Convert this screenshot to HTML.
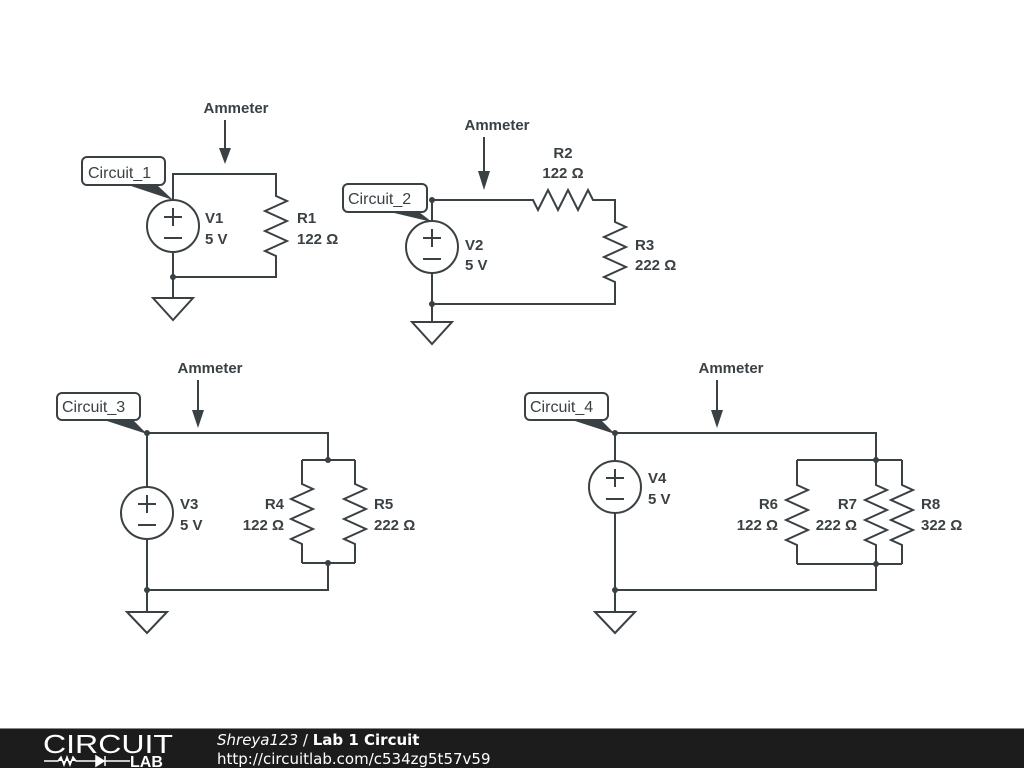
<!DOCTYPE html>
<html><head><meta charset="utf-8"><style>
html,body{margin:0;padding:0;background:#fff;}
svg{display:block}
</style></head><body>
<svg width="1024" height="768" viewBox="0 0 1024 768" xmlns="http://www.w3.org/2000/svg" font-family="Liberation Sans, Arial, sans-serif">
<rect width="1024" height="768" fill="#fff"/>
<g stroke="#3a4145" stroke-width="2" fill="none" stroke-linejoin="miter">
<path d="M173 201 V174 H276 V196 L287 201 L265 211 L287 221 L265 231 L287 241 L265 251 L276 256 V277 H173 V251"/>
<path d="M173 277 V298"/>
<path d="M153 298 H193 L173 320 Z"/>
<path d="M432 222 V200 H533 L538 210 L548 190 L558 210 L568 190 L578 210 L588 190 L593 200 H615 V222 L626 227 L604 237 L626 247 L604 257 L626 267 L604 277 L615 282 V304 H432 V272"/>
<path d="M432 304 V322"/>
<path d="M412 322 H452 L432 344 Z"/>
<path d="M147 488 V433 H328 V460"/>
<path d="M302 460 H355 M302 460 V484 L313 489 L291 499 L313 509 L291 519 L313 529 L291 539 L302 544 V563 M355 460 V484 L366 489 L344 499 L366 509 L344 519 L366 529 L344 539 L355 544 V563 M302 563 H355 M328 563 V590 H147 V538"/>
<path d="M147 590 V612"/>
<path d="M127 612 H167 L147 633 Z"/>
<path d="M615 462 V433 H876 V460"/>
<path d="M797 460 H902 M797 460 V485 L808 490 L786 500 L808 510 L786 520 L808 530 L786 540 L797 545 V564 M876 460 V485 L887 490 L865 500 L887 510 L865 520 L887 530 L865 540 L876 545 V564 M902 460 V485 L913 490 L891 500 L913 510 L891 520 L913 530 L891 540 L902 545 V564 M797 564 H902 M876 564 V590 H615 V512"/>
<path d="M615 590 V612"/>
<path d="M595 612 H635 L615 633 Z"/>
<circle cx="173" cy="226" r="26" fill="#fff"/>
<circle cx="432" cy="247" r="26" fill="#fff"/>
<circle cx="147" cy="513" r="26" fill="#fff"/>
<circle cx="615" cy="487" r="26" fill="#fff"/>
<path d="M164 217 H182 M173 208 V226 M164 238 H182"/>
<path d="M423 238 H441 M432 229 V247 M423 259 H441"/>
<path d="M138 504 H156 M147 495 V513 M138 525 H156"/>
<path d="M606 478 H624 M615 469 V487 M606 499 H624"/>
<path d="M225 120 V150 M484 137 V173 M198 380 V412 M717 380 V412"/>
</g>
<g fill="#3a4145">
<path d="M219 148 H231 L225 164 Z"/>
<path d="M478 171 H490 L484 190 Z"/>
<path d="M192 410 H204 L198 428 Z"/>
<path d="M711 410 H723 L717 428 Z"/>
<circle cx="173" cy="277" r="3"/>
<circle cx="432" cy="200" r="3"/><circle cx="432" cy="304" r="3"/>
<circle cx="147" cy="433" r="3"/><circle cx="147" cy="590" r="3"/>
<circle cx="328" cy="460" r="3"/><circle cx="328" cy="563" r="3"/>
<circle cx="615" cy="433" r="3"/><circle cx="615" cy="590" r="3"/>
<circle cx="876" cy="460" r="3"/><circle cx="876" cy="564" r="3"/>
<path d="M128 185 H157 L173 200 Z"/>
<path d="M390 212 H419 L432 222 Z"/>
<path d="M104 420 H133 L147 434 Z"/>
<path d="M572 420 H601 L615 434 Z"/>
</g>
<g fill="#fff" stroke="#3a4145" stroke-width="2">
<rect x="82" y="157" width="83" height="28" rx="5"/>
<rect x="343" y="184" width="84" height="28" rx="5"/>
<rect x="57" y="393" width="83" height="27" rx="5"/>
<rect x="525" y="393" width="83" height="27" rx="5"/>
</g>
<g font-size="16" fill="#3a4145" font-family="Liberation Sans, Arial, sans-serif">
<text x="88" y="178">Circuit_1</text>
<text x="348" y="204">Circuit_2</text>
<text x="62" y="412">Circuit_3</text>
<text x="530" y="412">Circuit_4</text>
</g>
<g font-size="15" font-weight="bold" fill="#3a4145" font-family="Liberation Sans, Arial, sans-serif">
<text x="236" y="113" text-anchor="middle">Ammeter</text>
<text x="497" y="130" text-anchor="middle">Ammeter</text>
<text x="210" y="373" text-anchor="middle">Ammeter</text>
<text x="731" y="373" text-anchor="middle">Ammeter</text>
<text x="205" y="223">V1</text><text x="205" y="244">5 V</text>
<text x="297" y="223">R1</text><text x="297" y="244">122 Ω</text>
<text x="465" y="250">V2</text><text x="465" y="270">5 V</text>
<text x="563" y="158" text-anchor="middle">R2</text><text x="563" y="178" text-anchor="middle">122 Ω</text>
<text x="635" y="250">R3</text><text x="635" y="270">222 Ω</text>
<text x="180" y="509">V3</text><text x="180" y="530">5 V</text>
<text x="284" y="509" text-anchor="end">R4</text><text x="284" y="530" text-anchor="end">122 Ω</text>
<text x="374" y="509">R5</text><text x="374" y="530">222 Ω</text>
<text x="648" y="483">V4</text><text x="648" y="504">5 V</text>
<text x="778" y="509" text-anchor="end">R6</text><text x="778" y="530" text-anchor="end">122 Ω</text>
<text x="857" y="509" text-anchor="end">R7</text><text x="857" y="530" text-anchor="end">222 Ω</text>
<text x="921" y="509">R8</text><text x="921" y="530">322 Ω</text>
</g>
<rect x="0" y="729" width="1024" height="39" fill="#1c1c1c"/>
<rect x="0" y="728" width="1024" height="1" fill="#888"/>
<text x="43" y="753" font-size="26" fill="#fff" font-family="Liberation Sans, Arial, sans-serif" textLength="130" lengthAdjust="spacingAndGlyphs">CIRCUIT</text>
<path d="M44 761 H58 L61 757 L64 765 L67 757 L70 765 L73 757 L76 761 H96 M96 756 L104 761 L96 766 Z M105 756 V766 M105 761 H130" stroke="#fff" stroke-width="1.5" fill="#fff"/>
<text x="130" y="767" font-size="16" font-weight="bold" fill="#fff" font-family="Liberation Sans, Arial, sans-serif">LAB</text>
<text x="217" y="745" font-size="15" fill="#fff" font-family="DejaVu Sans, sans-serif"><tspan font-style="italic">Shreya123</tspan> / <tspan font-weight="bold">Lab 1 Circuit</tspan></text>
<text x="217" y="764" font-size="15" fill="#fff" font-family="DejaVu Sans, sans-serif">http://circuitlab.com/c534zg5t57v59</text>
</svg>
</body></html>
